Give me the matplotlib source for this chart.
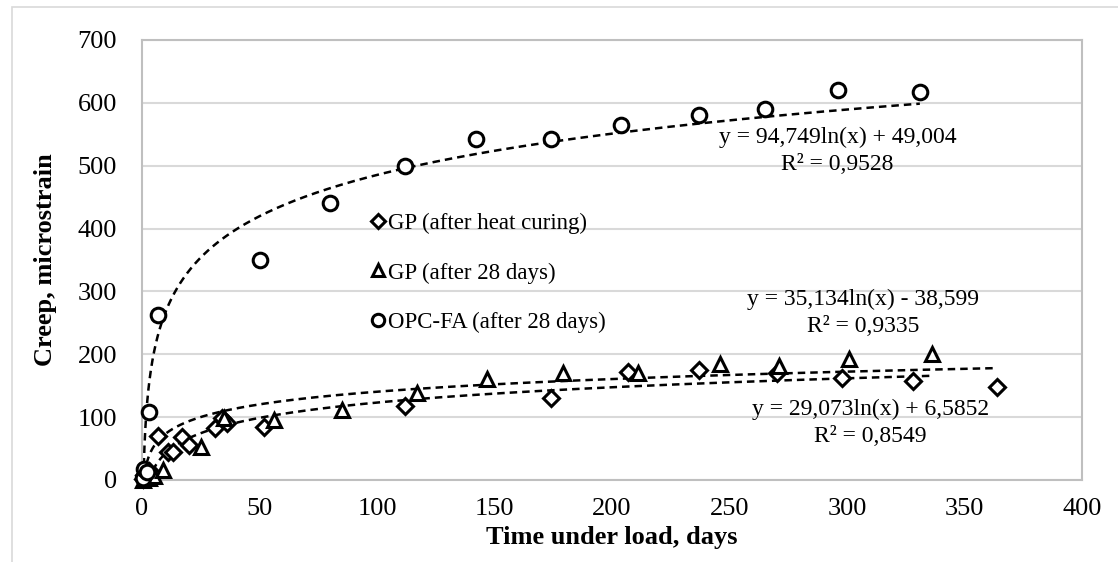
import numpy as np
import matplotlib
matplotlib.use("Agg")
import matplotlib.pyplot as plt
from matplotlib.patches import Rectangle

plt.rcParams["font.family"] = ["Liberation Serif", "DejaVu Serif"]

# GP (after heat curing) - diamonds
days_hc = [0.5, 1, 3, 5, 7, 11, 13, 17, 20, 31, 34, 36, 52, 112, 174, 207, 237, 270, 298, 328, 364]
creep_hc = [2, 8, 14, 8, 70, 44, 45, 68, 55, 82, 98, 90, 85, 118, 130, 172, 175, 170, 162, 158, 148]

# GP (after 28 days) - triangles
days_28 = [0.5, 3, 5, 9, 25, 35, 56, 85, 117, 147, 179, 211, 246, 271, 301, 336]
creep_28 = [0, 3, 6, 16, 52, 98, 95, 112, 138, 160, 170, 170, 185, 181, 193, 200]

# OPC-FA (after 28 days) - circles
days_opc = [0.5, 1, 2, 3, 7, 50, 80, 112, 142, 174, 204, 237, 265, 296, 331]
creep_opc = [3, 18, 12, 108, 262, 350, 440, 500, 543, 542, 564, 580, 590, 620, 618]

# log trendline coefficients (a*ln(x) + b) and labels
fit_hc = (29.073, 6.5852)
fit_28 = (35.134, -38.599)
fit_opc = (94.749, 49.004)
eq_hc = ["y = 29,073ln(x) + 6,5852", "R² = 0,8549"]
eq_28 = ["y = 35,134ln(x) - 38,599", "R² = 0,9335"]
eq_opc = ["y = 94,749ln(x) + 49,004", "R² = 0,9528"]

fig = plt.figure(figsize=(11.18, 5.62), dpi=100)
ax = fig.add_axes([142 / 1118, 1 - 480 / 562, 940 / 1118, 440 / 562])

# outer chart border
fig.add_artist(Rectangle((12 / 1118, -0.1), 1.2, 1 - 7 / 562 + 0.1, transform=fig.transFigure,
                         fill=False, edgecolor="#d9d9d9", linewidth=1.2, clip_on=False))

mk = dict(linestyle="none", markerfacecolor="white", markeredgecolor="black",
          markeredgewidth=2.2, clip_on=False, zorder=3)
ax.plot(days_hc, creep_hc, marker="D", markersize=8.5, label="GP (after heat curing)", **mk)
ax.plot(days_28, creep_28, marker="^", markersize=10.5, label="GP (after 28 days)", **mk)
ax.plot(days_opc, creep_opc, marker="o", markersize=10.5, label="OPC-FA (after 28 days)", **mk)

# trendlines
for days, fit in [(days_hc, fit_hc), (days_28, fit_28), (days_opc, fit_opc)]:
    xs = np.geomspace(min(days), max(days), 400)
    ax.plot(xs, fit[0] * np.log(xs) + fit[1], color="black", linestyle=(0, (3.0, 2.0)),
            linewidth=1.8, zorder=2)

ax.set_xlim(0, 400)
ax.set_ylim(0, 700)
ax.set_xticks(np.arange(0, 401, 50))
ax.set_yticks(np.arange(0, 701, 100))
ax.grid(axis="y", color="#d9d9d9", linewidth=1.5)
ax.set_axisbelow(True)
for s in ax.spines.values():
    s.set_color("#bfbfbf")
    s.set_linewidth(1.5)
ax.tick_params(length=0, labelsize=19, colors="black")
ax.tick_params(axis="y", pad=18)
ax.tick_params(axis="x", pad=13)

ax.set_xlabel("Time under load, days", fontsize=19, fontweight="bold")
ax.set_ylabel("Creep, microstrain", fontsize=19, fontweight="bold")
ax.xaxis.set_label_coords(0.5, -0.105)
ax.yaxis.set_label_coords(-0.09, 0.5)

for lines, (x, y) in [(eq_opc, (296, 545)), (eq_28, (307, 287)), (eq_hc, (310, 112))]:
    ax.text(x, y, lines[0], ha="center", va="center", fontsize=17)
    ax.text(x, y - 43, lines[1], ha="center", va="center", fontsize=17)

ax.legend(loc="upper left", bbox_to_anchor=(0.2426, 0.608), frameon=False, fontsize=16.5,
          handlelength=0.7, handletextpad=0.1, labelspacing=1.25, borderpad=0, borderaxespad=0,
          markerscale=0.85)

fig.savefig("out.png", dpi=100)
